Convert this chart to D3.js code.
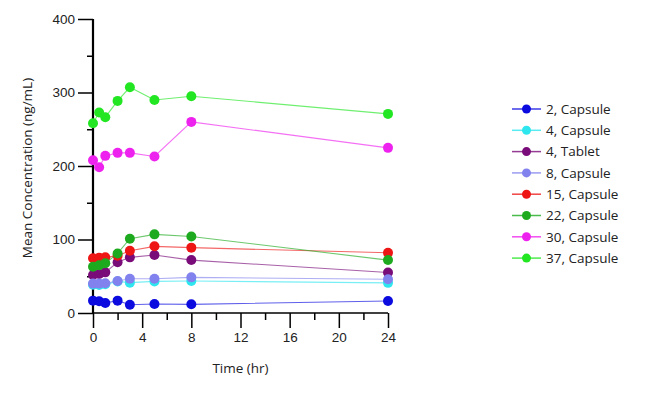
<!DOCTYPE html>
<html lang="en">
<head>
    <meta charset="UTF-8">
    <title>Mean Concentration vs Time</title>
    <script src="https://d3js.org/d3.v7.min.js"></script>
    <style>
        body { margin: 0; background: #fff; }
        svg { font-family: "Open Sans", sans-serif; }
        .tick text { font-size: 13.5px; fill: #222; }
        .axis path { display: none; }
        .axis line { stroke: #000; stroke-width: 1.5; }
        .legend text { font-size: 13.5px; fill: #222; }
    </style>
</head>
<body>
    <svg id="chart" width="647" height="393"></svg>

    <script>
        // Sampling times (hr)
        const times = [0, 0.5, 1, 2, 3, 5, 8, 24];

        const seriesNames = ["2, Capsule", "4, Capsule", "4, Tablet", "8, Capsule",
                             "15, Capsule", "22, Capsule", "30, Capsule", "37, Capsule"];
        const seriesColors = ["#0b0be0", "#2ee6ee", "#7a0c7a", "#8282ee",
                              "#ee1515", "#1eaa1e", "#ee22ee", "#22e622"];

        // Mean concentrations (ng/mL), one array per series
        const conc2Capsule  = [16.8, 15.9, 13.6, 16.8, 11.3, 12.2, 11.8, 16.3];
        const conc4Capsule  = [38.5, 38.0, 39.0, 43.0, 41.3, 43.0, 43.5, 41.0];
        const conc4Tablet   = [51.7, 53.0, 55.3, 69.0, 75.7, 78.9, 72.0, 55.0];
        const conc8Capsule  = [40.0, 40.0, 40.4, 43.5, 46.7, 46.7, 48.5, 46.0];
        const conc15Capsule = [74.4, 75.3, 75.7, 78.0, 84.8, 90.7, 88.9, 82.0];
        const conc22Capsule = [63.0, 65.0, 67.6, 81.0, 101.0, 107.0, 104.0, 72.0];
        const conc30Capsule = [207.9, 198.4, 213.8, 217.9, 217.9, 212.9, 260.0, 224.7];
        const conc37Capsule = [258.2, 272.7, 266.4, 288.6, 307.1, 289.9, 294.9, 270.9];

        const seriesValues = [conc2Capsule, conc4Capsule, conc4Tablet, conc8Capsule,
                              conc15Capsule, conc22Capsule, conc30Capsule, conc37Capsule];

        const xMajor = [0, 4, 8, 12, 16, 20, 24];
        const xMinor = [2, 6, 10, 14, 18, 22];
        const yMajor = [0, 100, 200, 300, 400];
        const yMinor = [50, 150, 250, 350];

        const svg = d3.select("#chart");
        const plotLeft = 93, plotRight = 388, plotTop = 19, plotBottom = 313;

        const x = d3.scaleLinear().domain([0, 24]).range([plotLeft, plotRight]);
        const y = d3.scaleLinear().domain([0, 400]).range([plotBottom, plotTop]);

        // axes
        svg.append("g").attr("class", "axis")
            .attr("transform", `translate(${plotLeft},0)`)
            .call(d3.axisLeft(y).tickValues(yMajor).tickSize(15).tickPadding(3));
        svg.append("g").attr("class", "axis")
            .attr("transform", `translate(${plotLeft},0)`)
            .call(d3.axisLeft(y).tickValues(yMinor).tickSize(6).tickFormat(""));
        svg.append("g").attr("class", "axis")
            .attr("transform", `translate(0,${plotBottom})`)
            .call(d3.axisBottom(x).tickValues(xMajor).tickSize(15).tickPadding(4));
        svg.append("g").attr("class", "axis")
            .attr("transform", `translate(0,${plotBottom})`)
            .call(d3.axisBottom(x).tickValues(xMinor).tickSize(7).tickFormat(""));

        svg.append("line")
            .attr("x1", plotLeft).attr("x2", plotRight).attr("y1", plotBottom).attr("y2", plotBottom)
            .attr("stroke", "#000").attr("stroke-width", 1.5);
        svg.append("line")
            .attr("x1", plotLeft).attr("x2", plotLeft).attr("y1", plotTop).attr("y2", plotBottom)
            .attr("stroke", "#000").attr("stroke-width", 2.2);

        // axis titles
        svg.append("text")
            .attr("x", (plotLeft + plotRight) / 2).attr("y", 373)
            .attr("text-anchor", "middle")
            .style("font-size", "13.5px").attr("fill", "#222")
            .text("Time (hr)");
        svg.append("text")
            .attr("transform", `translate(32,${(plotTop + plotBottom) / 2 + 2}) rotate(-90)`)
            .attr("text-anchor", "middle")
            .style("font-size", "13.5px").attr("fill", "#222")
            .text("Mean Concentration (ng/mL)");

        // series
        const line = d3.line().x((d, i) => x(times[i])).y(d => y(d));

        seriesValues.forEach((vals, s) => {
            const g = svg.append("g");
            g.append("path")
                .attr("d", line(vals))
                .attr("fill", "none")
                .attr("stroke", seriesColors[s])
                .attr("stroke-width", 1.1)
                .attr("stroke-opacity", 0.65);
            g.selectAll("circle").data(vals).enter().append("circle")
                .attr("cx", (d, i) => x(times[i]))
                .attr("cy", d => y(d))
                .attr("r", 5)
                .attr("fill", seriesColors[s]);
        });

        // legend
        const legend = svg.append("g").attr("class", "legend");
        seriesNames.forEach((name, s) => {
            const ly = 109 + s * 21.3;
            legend.append("line")
                .attr("x1", 512).attr("x2", 541).attr("y1", ly).attr("y2", ly)
                .attr("stroke", seriesColors[s]).attr("stroke-width", 1.5)
                .attr("stroke-opacity", 0.8);
            legend.append("circle")
                .attr("cx", 526.5).attr("cy", ly).attr("r", 4.5)
                .attr("fill", seriesColors[s]);
            legend.append("text")
                .attr("x", 546).attr("y", ly).attr("dy", "0.35em")
                .text(name);
        });
    </script>
</body>
</html>
